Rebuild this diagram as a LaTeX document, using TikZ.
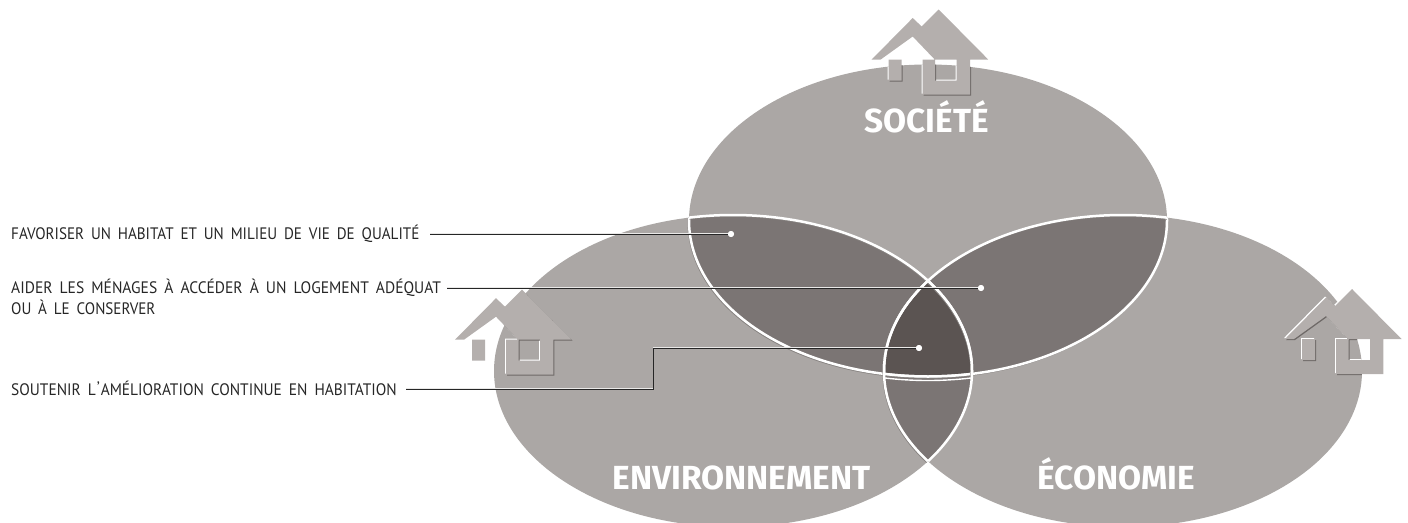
\documentclass[tikz,border=0pt]{standalone}
\usepackage{fontspec}
\setmainfont{PT Sans}
\newfontfamily\labelfont[FakeStretch=0.91,WordSpace=1.7]{PT Sans}
\newfontfamily\titlefont{Fira Sans}
\definecolor{base}{RGB}{171,167,165}
\definecolor{lens}{RGB}{123,117,116}
\definecolor{core}{RGB}{91,84,82}
\definecolor{roof}{RGB}{180,175,173}
\definecolor{edgegray}{RGB}{110,105,103}
\tikzset{
  rad/.style={x radius=239pt,y radius=156pt},
  txtlabel/.style={anchor=west,inner sep=0pt,text height=8pt,text depth=3pt,font=\labelfont\fontsize{16.6}{18}\selectfont,text=black!85},
  bigtitle/.style={anchor=base,inner sep=0pt,text=white,font=\titlefont\bfseries\fontsize{33.4}{36}\selectfont},
  dot/.style={circle,fill=white,inner sep=0pt,minimum size=6pt},
  leader/.style={draw=black!85,line width=0.9pt},
  sheen/.style={draw=white!75!base,line width=0.6pt,transform canvas={yshift=0.8pt}}
}
\newcommand{\houseshape}{
  (0,0) -- (41,-41.5) -- (50,-33) -- (67,-50) -- (116.5,0) -- (98.3,0) -- (98.3,35) -- (51,35) -- (51,0)
  -- (63,0) -- (41,-23) -- (9,0) -- cycle
  (17,0) rectangle (30,21)
  (63.5,0) rectangle (85,21)
}
\begin{document}
\begin{tikzpicture}[x=1pt,y=-1pt]
\useasboundingbox (0,0) rectangle (1408,522);
\clip (0,0) rectangle (1408,522);
\coordinate (soc) at (928,220.5);
\coordinate (env) at (733,371);
\coordinate (eco) at (1123,371);
\foreach \c in {soc,env,eco}
    \fill [base] (\c) ellipse [rad];
% overlaps
\foreach \a/\b in {soc/env, soc/eco, env/eco}
    {
    \begin{scope}
    \clip (\a) ellipse [rad];
    \fill [lens] (\b) ellipse [rad];
    \end{scope}
    }
\begin{scope}
\clip (soc) ellipse [rad];
\clip (env) ellipse [rad];
\fill [core] (eco) ellipse [rad];
\end{scope}
% white outlines, only inside the other ellipses
\foreach \a/\b in {soc/env, soc/eco, env/soc, env/eco, eco/soc, eco/env}
    {
    \begin{scope}
    \clip (\b) ellipse [rad];
    \draw [edgegray!60!base,line width=1pt,transform canvas={shift={(-1pt,-1.4pt)}}] (\a) ellipse [rad];
    \draw [white,line width=2.5pt] (\a) ellipse [rad];
    \end{scope}
    }
% second line on top of the lower overlap
\begin{scope}
\clip (env) ellipse [rad];
\clip (eco) ellipse [rad];
\draw [white,line width=1.4pt,transform canvas={yshift=-4pt}] (soc) ellipse [rad];
\end{scope}
% houses
\foreach \x/\y in {871.7/59.5, 455/339.7, 1285/339}
    {
    \begin{scope}
    \clip (soc) ellipse [rad] (env) ellipse [rad] (eco) ellipse [rad];
    \begin{scope}[shift={(\x-1,\y-1)}]
    \fill [white,even odd rule] \houseshape;
    \end{scope}
    \begin{scope}[shift={(\x+1,\y+1)}]
    \fill [edgegray,even odd rule] \houseshape;
    \end{scope}
    \end{scope}
    \begin{scope}[shift={(\x,\y)}]
    \fill [roof,even odd rule] \houseshape;
    \end{scope}
    }
\node [bigtitle] (tsoc) at (926.5,132) {SOCIÉTÉ};
\node [bigtitle] (tenv) at (741.5,489) {ENVIRONNEMENT};
\node [bigtitle] (teco) at (1116,489) {ÉCONOMIE};
\node [txtlabel] (l1) at (11,236.5) {FAVORISER UN HABITAT ET UN MILIEU DE VIE DE QUALITÉ};
\node [txtlabel] (l2) at (11,290.5) {\scalebox{1.03}[1]{AIDER LES MÉNAGES À ACCÉDER À UN LOGEMENT ADÉQUAT}};
\node [txtlabel] (l2b) at (11,312) {OU À LE CONSERVER};
\node [txtlabel] (l3) at (11,392.5) {\scalebox{1.02}[1]{SOUTENIR L\kern1pt\raisebox{1.5pt}{’}\kern1ptAMÉLIORATION CONTINUE EN HABITATION}};
\node [dot] (d1) at (731,234) {};
\node [dot] (d2) at (981,288) {};
\node [dot] (d3) at (919,348) {};
\coordinate (b3) at (653,389);
\coordinate (c3) at (653,348);
\coordinate (a1) at (430,234);
\coordinate (a2) at (447,288);
\coordinate (a3) at (406,389);
\foreach \from/\to in {a1/d1, a2/d2}
    {
    \draw [sheen] (\from) -- (\to);
    \draw [leader] (\from) -- (\to);
    }
\draw [sheen] (a3) -- (b3) -- (c3) -- (d3);
\draw [leader] (a3) -- (b3) -- (c3) -- (d3);
\foreach \d in {d1,d2,d3}
    \node [dot] at (\d) {};
\end{tikzpicture}
\end{document}
